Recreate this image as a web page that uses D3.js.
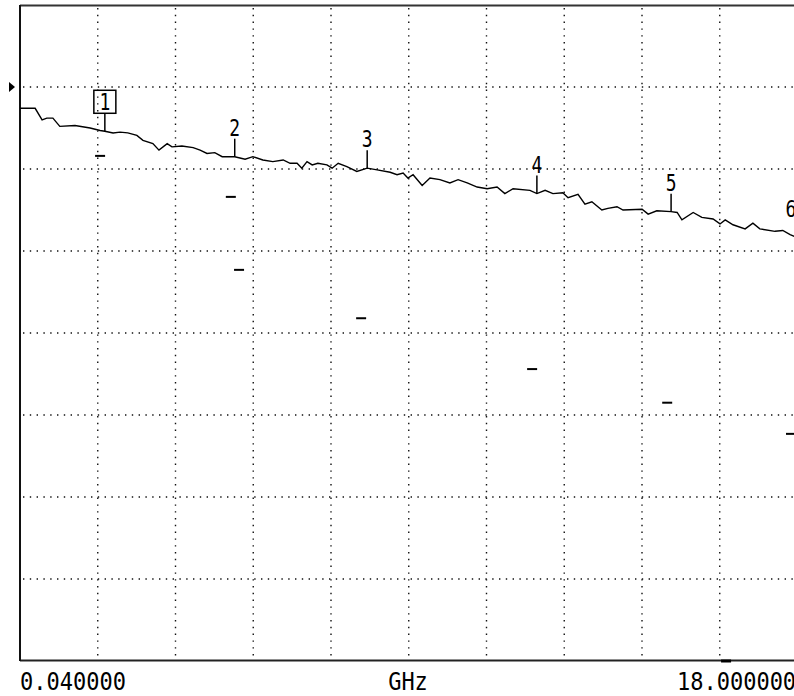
<!DOCTYPE html>
<html>
<head>
<meta charset="utf-8">
<script src="https://cdn.jsdelivr.net/npm/d3@7"></script>
<style>
  body { margin: 0; background: #fff; }
  svg { display: block; }
</style>
</head>
<body>
<svg id="chart" width="794" height="696"></svg>
<script>
// trace: frequency (GHz) and level (dB, 1 dB/div, ref 0)
var freq = [0.04, 0.39, 0.55, 0.66, 0.80, 0.96, 1.31, 1.66, 1.89, 2.00, 2.19, 2.35, 2.53, 2.74, 2.88,
  3.11, 3.25, 3.44, 3.55, 3.78, 4.04, 4.20, 4.36, 4.54, 4.71, 5.00, 5.24, 5.42, 5.65, 5.88, 6.12,
  6.28, 6.44, 6.55, 6.67, 6.79, 6.92, 7.13, 7.25, 7.39, 7.59, 7.82, 8.06, 8.29, 8.59, 8.75, 8.89,
  9.00, 9.12, 9.33, 9.51, 9.74, 9.97, 10.16, 10.37, 10.60, 10.83, 11.06, 11.24, 11.43, 11.82, 11.98,
  12.17, 12.35, 12.58, 12.70, 12.93, 13.09, 13.25, 13.48, 13.62, 13.83, 13.97, 14.41, 14.55, 14.75,
  15.08, 15.22, 15.33, 15.59, 15.79, 16.05, 16.21, 16.33, 16.51, 16.79, 16.97, 17.13, 17.48, 17.66,
  17.83, 18.00];
var level = [-0.26, -0.26, -0.40, -0.38, -0.38, -0.48, -0.47, -0.50, -0.53, -0.54, -0.56, -0.55, -0.56, -0.59, -0.65,
  -0.69, -0.77, -0.69, -0.73, -0.72, -0.74, -0.77, -0.81, -0.80, -0.85, -0.85, -0.88, -0.85, -0.89, -0.91, -0.89,
  -0.93, -0.93, -0.99, -0.91, -0.95, -0.93, -0.95, -0.99, -0.93, -0.97, -1.03, -0.99, -1.01, -1.04, -1.07, -1.05,
  -1.11, -1.07, -1.20, -1.11, -1.13, -1.17, -1.13, -1.17, -1.22, -1.24, -1.22, -1.30, -1.24, -1.26, -1.30,
  -1.26, -1.30, -1.29, -1.35, -1.31, -1.43, -1.40, -1.50, -1.48, -1.46, -1.50, -1.49, -1.55, -1.51,
  -1.52, -1.53, -1.62, -1.53, -1.59, -1.61, -1.67, -1.62, -1.68, -1.73, -1.66, -1.73, -1.76, -1.75,
  -1.80, -1.84];

// markers
var markerNames = ["1", "2", "3", "4", "5", "6"];
var markerFreq = [2.00, 5.00, 8.06, 11.98, 15.08, 18.00];
var markerLevel = [-0.54, -0.85, -0.99, -1.30, -1.52, -1.84];

// short dashes on the screen
var dashFreq = [1.89, 4.91, 5.10, 7.92, 11.87, 14.99, 17.85, 16.35];
var dashLevel = [-0.84, -1.34, -2.23, -2.82, -3.44, -3.85, -4.23, -7.0];

var startLabel = "0.040000";
var stopLabel = "18.000000";
var unitLabel = "GHz";
var refLevel = 0;

var svg = d3.select("#chart");
var padL = 20, padR = 797.5, padT = 5, padB = 661;

var x = d3.scaleLinear().domain([0.04, 18]).range([padL, padR]);
var y = d3.scaleLinear().domain([1, -7]).range([padT, padB]);
var divX = d3.scaleLinear().domain([0, 10]).range([padL, padR]);

// dotted graticule
var grid = svg.append("g")
  .attr("stroke", "#111")
  .attr("stroke-width", 1.4)
  .attr("stroke-dasharray", "1.4,5.4");
grid.selectAll("line.v")
  .data(d3.range(1, 10))
  .enter().append("line")
  .attr("class", "v")
  .attr("x1", d => divX(d)).attr("x2", d => divX(d))
  .attr("y1", padT + 3).attr("y2", padB);
grid.selectAll("line.h")
  .data(d3.range(0, -7, -1))
  .enter().append("line")
  .attr("class", "h")
  .attr("x1", padL + 3).attr("x2", 794)
  .attr("y1", d => y(d)).attr("y2", d => y(d));

// frame
svg.append("line").attr("x1", padL).attr("x2", 794).attr("y1", padT + 0.5).attr("y2", padT + 0.5)
  .attr("stroke", "#333").attr("stroke-width", 2);
svg.append("line").attr("x1", padL).attr("x2", 794).attr("y1", padB - 0.5).attr("y2", padB - 0.5)
  .attr("stroke", "#222").attr("stroke-width", 2);
svg.append("line").attr("x1", padL).attr("x2", padL).attr("y1", padT).attr("y2", padB)
  .attr("stroke", "#111").attr("stroke-width", 2);

// reference level arrow
var ry = y(refLevel);
svg.append("path")
  .attr("d", `M9,${ry - 5}L15,${ry}L9,${ry + 5}Z`)
  .attr("fill", "#000");

// dashes
svg.selectAll("line.dash")
  .data(d3.range(dashFreq.length))
  .enter().append("line")
  .attr("class", "dash")
  .attr("x1", i => x(dashFreq[i]) - 5)
  .attr("x2", i => x(dashFreq[i]) + 5)
  .attr("y1", i => Math.min(y(dashLevel[i]), padB))
  .attr("y2", i => Math.min(y(dashLevel[i]), padB))
  .attr("stroke", "#000")
  .attr("stroke-width", i => dashLevel[i] <= -7 ? 3 : 2);

// trace
var pts = freq.map((f, i) => [f, level[i]]);
var line = d3.line()
  .x(d => x(d[0]))
  .y(d => y(d[1]));
svg.append("path")
  .datum(pts)
  .attr("fill", "none")
  .attr("stroke", "#000")
  .attr("stroke-width", 1.4)
  .attr("d", line);

// markers
var mk = svg.selectAll("g.marker")
  .data(d3.range(markerNames.length))
  .enter().append("g")
  .attr("class", "marker")
  .attr("transform", i => `translate(${x(markerFreq[i])},${y(markerLevel[i])})`);
mk.append("line")
  .attr("x1", 0).attr("x2", 0)
  .attr("y1", 0).attr("y2", -18)
  .attr("stroke", "#000").attr("stroke-width", 1.5);
mk.append("text")
  .attr("transform", i => {
    var dx = Math.min(0, 791 - x(markerFreq[i]));
    return `translate(${dx},${i == 0 ? -21 : -21}) scale(1,1.25)`;
  })
  .attr("text-anchor", "middle")
  .attr("font-family", "DejaVu Sans Mono")
  .attr("font-size", 18)
  .attr("fill", "#000")
  .text(i => markerNames[i]);
// active marker box
mk.filter(i => i == 0).append("rect")
  .attr("x", -11).attr("y", -41)
  .attr("width", 22).attr("height", 23)
  .attr("fill", "none")
  .attr("stroke", "#000").attr("stroke-width", 1.5);

// bottom annotation
var lab = svg.append("g")
  .attr("font-family", "DejaVu Sans Mono")
  .attr("font-size", 22)
  .attr("fill", "#000");
lab.append("text").attr("transform", "translate(20,690) scale(1,1.15)").text(startLabel);
lab.append("text").attr("transform", "translate(408,690) scale(1,1.15)")
  .attr("text-anchor", "middle").text(unitLabel);
lab.append("text").attr("transform", "translate(677,690) scale(1,1.15)").text(stopLabel);
</script>
</body>
</html>
